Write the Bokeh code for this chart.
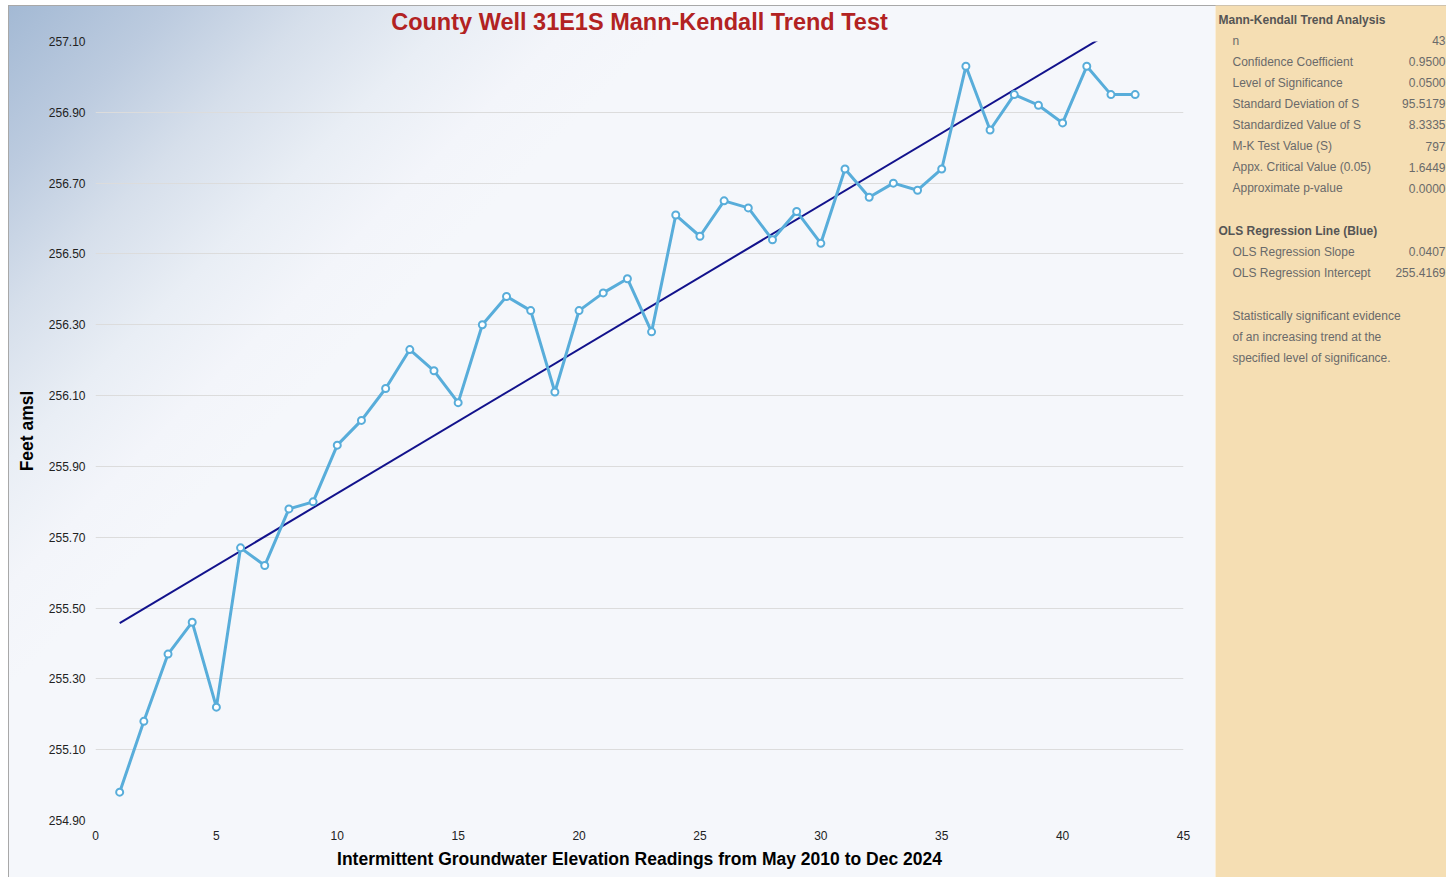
from bokeh.plotting import figure
from bokeh.layouts import row, column
from bokeh.models import Range1d, FixedTicker, PrintfTickFormatter
from bokeh.core.properties import value
from bokeh.embed import file_html
from bokeh.resources import INLINE

# ---------------- data ----------------
reading = list(range(1, 44))
elevation = [254.98, 255.18, 255.37, 255.46, 255.22, 255.67, 255.62, 255.78, 255.80, 255.96,
             256.03, 256.12, 256.23, 256.17, 256.08, 256.30, 256.38, 256.34, 256.11, 256.34,
             256.39, 256.43, 256.28, 256.61, 256.55, 256.65, 256.63, 256.54, 256.62, 256.53,
             256.74, 256.66, 256.70, 256.68, 256.74, 257.03, 256.85, 256.95, 256.92, 256.87,
             257.03, 256.95, 256.95]

ols_slope = 0.0407
ols_intercept = 255.4169
ols_x = [1, 43]
ols_y = [ols_intercept + ols_slope * v for v in ols_x]

x_ticks = [0, 5, 10, 15, 20, 25, 30, 35, 40, 45]
y_ticks = [254.90, 255.10, 255.30, 255.50, 255.70, 255.90, 256.10, 256.30, 256.50, 256.70, 256.90, 257.10]

title_text = "County Well 31E1S Mann-Kendall Trend Test"
x_label = "Intermittent Groundwater Elevation Readings from May 2010 to Dec 2024"
y_label = "Feet amsl"

mk_heading = "Mann-Kendall Trend Analysis"
mk_labels = ["n", "Confidence Coefficient", "Level of Significance", "Standard Deviation of S",
             "Standardized Value of S", "M-K Test Value (S)", "Appx. Critical Value (0.05)",
             "Approximate p-value"]
mk_values = ["43", "0.9500", "0.0500", "95.5179", "8.3335", "797", "1.6449", "0.0000"]

ols_heading = "OLS Regression Line (Blue)"
ols_labels = ["OLS Regression Slope", "OLS Regression Intercept"]
ols_values = ["0.0407", "255.4169"]

note_lines = ["Statistically significant evidence", "of an increasing trend at the",
              "specified level of significance."]

FONT = "Liberation Sans"
MW, TH, MH = 1207, 29, 843   # main width, title strip height, plot height


def bare(fig):
    fig.frame_align = False
    fig.background_fill_alpha = 0
    fig.border_fill_alpha = 0
    fig.outline_line_color = None
    fig.grid.visible = False


# ---------------- title strip ----------------
t = figure(width=MW, height=TH, x_range=Range1d(0, MW), y_range=Range1d(TH, 0),
           output_backend="svg", toolbar_location=None, x_axis_type=None, y_axis_type=None,
           min_border=0)
bare(t)
t.text(x=[631], y=[16], text=[title_text], text_align="center", text_baseline="middle",
       text_font=value(FONT), text_font_size="23.5px", text_font_style="bold",
       text_color="#B22222")

# ---------------- main chart ----------------
p = figure(width=MW, height=MH, x_range=Range1d(0, 45), y_range=Range1d(254.90, 257.10),
           output_backend="svg", toolbar_location=None,
           min_border_left=87, min_border_right=32, min_border_top=7, min_border_bottom=57)
p.frame_align = False
p.background_fill_alpha = 0
p.border_fill_alpha = 0
p.outline_line_color = None

p.xaxis.ticker = FixedTicker(ticks=x_ticks)
p.yaxis.ticker = FixedTicker(ticks=y_ticks)
p.yaxis.formatter = PrintfTickFormatter(format="%.2f")
for ax in (p.xaxis, p.yaxis):
    ax.axis_line_color = None
    ax.major_tick_line_color = None
    ax.minor_tick_line_color = None
    ax.major_tick_out = 0
    ax.major_tick_in = 0
    ax.minor_tick_out = 0
    ax.minor_tick_in = 0
    ax.major_label_text_font = FONT
    ax.major_label_text_font_size = "12px"
    ax.major_label_text_color = "#222222"
    ax.major_label_standoff = 10
    ax.axis_label_text_font = FONT
    ax.axis_label_text_font_style = "bold"
    ax.axis_label_text_color = "#000000"
p.xaxis.axis_label = x_label
p.xaxis.axis_label_text_font_size = "17.5px"
p.xaxis.axis_label_standoff = 6
p.yaxis.axis_label = y_label
p.yaxis.axis_label_text_font_size = "17.5px"
p.yaxis.axis_label_standoff = 9

p.xgrid.visible = False
p.ygrid.ticker = FixedTicker(ticks=y_ticks[:-1])
p.ygrid.grid_line_color = "#dcdcdc"
p.ygrid.grid_line_width = 1.2

p.line(ols_x, ols_y, line_color="#12128C", line_width=2)
p.line(reading, elevation, line_color="#58ADDA", line_width=3)
p.scatter(reading, elevation, size=7, fill_color="white", line_color="#58ADDA", line_width=2)

left = column(t, p)
left.styles = {
    "background-color": "#f5f7fb",
    "background-image": "linear-gradient(135deg, #a3b9d4 0%, #bccbdf 8%, #d6dfeb 15%, #e9eef5 22%, #f3f5fa 28%, #f5f7fb 33%)",
    "box-shadow": "inset 1px 1px 0 #a8a8a8",
}

# ---------------- side panel ----------------
PW, PH = 231, TH + MH
q = figure(width=PW, height=PH, x_range=Range1d(0, PW), y_range=Range1d(PH, 0),
           output_backend="svg", toolbar_location=None, x_axis_type=None, y_axis_type=None,
           min_border=0)
q.frame_align = False
q.styles = {"box-shadow": "inset 0 1px 0 #a8a8a8"}
q.background_fill_color = "#F5DEB3"
q.border_fill_color = "#F5DEB3"
q.outline_line_color = None
q.grid.visible = False

LBL = "#6a6a6a"
HDR = "#555555"
common = dict(text_font=value(FONT), text_font_size="12px", text_baseline="middle")

q.text(x=[3, 3], y=[14, 225], text=[mk_heading, ols_heading], text_color=HDR,
       text_font_style="bold", **common)
mk_y = [35 + 21.1 * i for i in range(len(mk_labels))]
q.text(x=[17] * len(mk_labels), y=mk_y, text=mk_labels, text_color=LBL, **common)
q.text(x=[230] * len(mk_values), y=mk_y, text=mk_values, text_color=LBL, text_align="right", **common)
ols_yy = [246, 267]
q.text(x=[17] * 2, y=ols_yy, text=ols_labels, text_color=LBL, **common)
q.text(x=[230] * 2, y=ols_yy, text=ols_values, text_color=LBL, text_align="right", **common)
q.text(x=[17] * 3, y=[310, 331, 352], text=note_lines, text_color=LBL, **common)

layout = row(left, q)
layout.styles = {"margin-left": "8px", "margin-top": "5px"}
open("out.html", "w").write(file_html(layout, INLINE))
